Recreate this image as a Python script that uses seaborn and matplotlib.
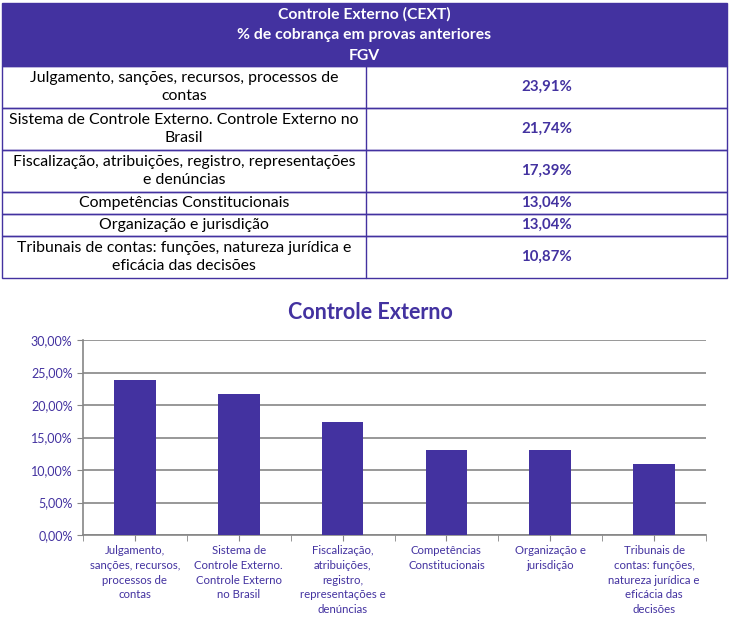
import matplotlib
matplotlib.use("Agg")
import matplotlib.pyplot as plt
import seaborn as sns
import pandas as pd
from matplotlib.patches import Rectangle
from matplotlib.ticker import FuncFormatter, MultipleLocator

# Data
table_title = ["Controle Externo (CEXT)", "% de cobrança em provas anteriores", "FGV"]
topics = [
    "Julgamento, sanções, recursos, processos de\ncontas",
    "Sistema de Controle Externo. Controle Externo no\nBrasil",
    "Fiscalização, atribuições, registro, representações\ne denúncias",
    "Competências Constitucionais",
    "Organização e jurisdição",
    "Tribunais de contas: funções, natureza jurídica e\neficácia das decisões",
]
chart_labels = [
    "Julgamento,\nsanções, recursos,\nprocessos de\ncontas",
    "Sistema de\nControle Externo.\nControle Externo\nno Brasil",
    "Fiscalização,\natribuições,\nregistro,\nrepresentações e\ndenúncias",
    "Competências\nConstitucionais",
    "Organização e\njurisdição",
    "Tribunais de\ncontas: funções,\nnatureza jurídica e\neficácia das\ndecisões",
]
percent = [23.91, 21.74, 17.39, 13.04, 13.04, 10.87]

purple = "#4332A0"
grid_gray = "#868686"

sns.set_style("white")
plt.rcParams["font.family"] = ["Lato", "DejaVu Sans"]

fig = plt.figure(figsize=(7.3, 6.34), dpi=100)

# ---- table at the top (pixel coordinates) ----
tab = fig.add_axes([0, 0, 1, 1])
tab.set_xlim(0, 730)
tab.set_ylim(634, 0)
tab.axis("off")

x0, xm, x1 = 2, 366, 727
tab.add_patch(Rectangle((x0, 3), x1 - x0, 63, color=purple, zorder=1))
tab.text((x0 + x1) / 2, 35, "\n".join(table_title), ha="center", va="center",
         color="white", fontweight="bold", fontsize=11.3, linespacing=1.6)

row_heights = [42 if "\n" in t else 22 for t in topics]
y = 66
for topic, val, h in zip(topics, percent, row_heights):
    tab.add_patch(Rectangle((x0, y), x1 - x0, h, fill=False, edgecolor=purple, lw=1, zorder=2))
    tab.plot([xm, xm], [y, y + h], color=purple, lw=1, zorder=2)
    tab.text((x0 + xm) / 2, y + h / 2, topic, ha="center", va="center",
             color="black", fontsize=11.4, linespacing=1.45)
    tab.text((xm + x1) / 2, y + h / 2, f"{val:.2f}%".replace(".", ","), ha="center",
             va="center", color=purple, fontweight="bold", fontsize=10.8)
    y += h

# ---- bar chart ----
ax = fig.add_axes([83 / 730, 1 - 535 / 634, (706 - 83) / 730, (535 - 340) / 634])
df = pd.DataFrame({"topic": chart_labels, "value": [p / 100 for p in percent]})
sns.barplot(data=df, x="topic", y="value", color=purple, saturation=1, width=0.4,
            linewidth=0, ax=ax, zorder=3)

ax.set_ylim(0, 0.30)
ax.set_xlim(-0.5, len(chart_labels) - 0.5)
ax.yaxis.set_major_locator(MultipleLocator(0.05))
ax.yaxis.set_major_formatter(FuncFormatter(lambda v, _: f"{v * 100:.2f}%".replace(".", ",")))
ax.grid(axis="y", color=grid_gray, lw=1.2, zorder=0)
ax.set_axisbelow(True)
ax.set_xlabel("")
ax.set_ylabel("")
for s in ["top", "right"]:
    ax.spines[s].set_visible(False)
for s in ["left", "bottom"]:
    ax.spines[s].set_color(grid_gray)
    ax.spines[s].set_linewidth(1.2)

ax.set_xticks(range(len(chart_labels)))
ax.set_xticklabels(chart_labels, fontsize=8.2, color=purple, linespacing=1.4, va="top")
ax.set_xticks([i - 0.5 for i in range(len(chart_labels) + 1)], minor=True)
ax.tick_params(axis="x", which="both", direction="out", length=4, color=grid_gray, bottom=True)
ax.tick_params(axis="y", direction="out", length=4, color=grid_gray, left=True,
               labelsize=9, labelcolor=purple)

fig.text(370 / 730, 1 - 312 / 634, "Controle Externo", ha="center", va="center",
         color=purple, fontweight="bold", fontsize=15.5)

fig.savefig("out.png", dpi=100)
